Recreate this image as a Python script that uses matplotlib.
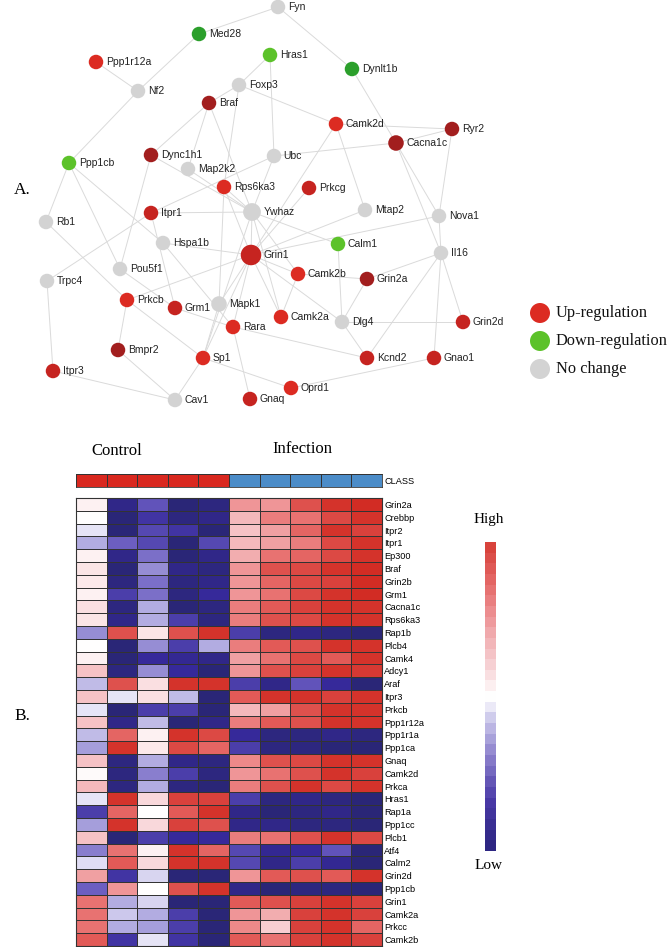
import matplotlib
matplotlib.use("Agg")
import matplotlib.pyplot as plt
import numpy as np
from matplotlib.colors import LinearSegmentedColormap, ListedColormap

# ---------------- Panel A: network data ----------------
node_names = ["Fyn", "Med28", "Hras1", "Ppp1r12a", "Nf2", "Foxp3", "Braf", "Dynlt1b",
              "Camk2d", "Ryr2", "Cacna1c", "Dync1h1", "Ppp1cb", "Map2k2", "Ubc",
              "Rps6ka3", "Prkcg", "Itpr1", "Ywhaz", "Rb1", "Hspa1b", "Grin1", "Mtap2",
              "Nova1", "Calm1", "Il16", "Pou5f1", "Trpc4", "Camk2b", "Grin2a", "Prkcb",
              "Grm1", "Mapk1", "Camk2a", "Rara", "Dlg4", "Grin2d", "Bmpr2", "Sp1",
              "Kcnd2", "Gnao1", "Itpr3", "Oprd1", "Cav1", "Gnaq"]
layout_x = [278, 199, 270, 96, 138, 239, 209, 352, 336, 452, 396, 151, 69, 188, 274,
            224, 309, 151, 252, 46, 163, 251, 365, 439, 338, 441, 120, 47, 298, 367,
            127, 175, 219, 281, 233, 342, 463, 118, 203, 367, 434, 53, 291, 175, 250]
layout_y = [7, 34, 55, 62, 91, 85, 103, 69, 124, 129, 143, 155, 163, 169, 156,
            187, 188, 213, 212, 222, 243, 255, 210, 216, 244, 253, 269, 281, 274, 279,
            300, 308, 304, 317, 327, 322, 322, 350, 358, 358, 358, 371, 388, 400, 399]
# status: 'up' / 'down' / 'none'; level: shade intensity (1 = bright, 2 = medium, 3 = dark)
node_status = ["none", "down", "down", "up", "none", "none", "up", "down",
               "up", "up", "up", "up", "down", "none", "none",
               "up", "up", "up", "none", "none", "none", "up", "none",
               "none", "down", "none", "none", "none", "up", "up", "up",
               "up", "none", "up", "up", "none", "up", "up", "up",
               "up", "up", "up", "up", "none", "up"]
node_level = [0, 3, 1, 1, 0, 0, 3, 3,
              1, 3, 3, 3, 1, 0, 0,
              1, 2, 2, 0, 0, 0, 2, 0,
              0, 1, 0, 0, 0, 1, 3, 1,
              2, 0, 1, 1, 0, 2, 3, 1,
              2, 2, 2, 1, 0, 2]
big_nodes = {"Grin1": 2.0, "Ywhaz": 1.5, "Mapk1": 1.15, "Cacna1c": 1.15}

edges = [("Fyn", "Med28"), ("Fyn", "Dynlt1b"), ("Med28", "Nf2"), ("Ppp1r12a", "Nf2"),
         ("Nf2", "Ppp1cb"), ("Hras1", "Foxp3"), ("Foxp3", "Braf"), ("Hras1", "Ubc"),
         ("Foxp3", "Camk2d"), ("Foxp3", "Rps6ka3"), ("Braf", "Dync1h1"), ("Braf", "Map2k2"),
         ("Braf", "Ywhaz"), ("Dync1h1", "Pou5f1"), ("Dync1h1", "Ywhaz"), ("Ubc", "Ywhaz"),
         ("Ubc", "Cacna1c"), ("Ubc", "Itpr1"), ("Camk2d", "Ryr2"), ("Camk2d", "Mtap2"),
         ("Camk2d", "Grin1"), ("Dynlt1b", "Cacna1c"), ("Cacna1c", "Ryr2"), ("Ryr2", "Nova1"),
         ("Cacna1c", "Nova1"), ("Cacna1c", "Il16"), ("Mtap2", "Grin1"), ("Nova1", "Grin1"),
         ("Nova1", "Il16"), ("Calm1", "Ywhaz"), ("Calm1", "Dlg4"), ("Il16", "Grin2a"),
         ("Il16", "Kcnd2"), ("Il16", "Gnao1"), ("Il16", "Grin2d"), ("Grin2a", "Dlg4"),
         ("Camk2b", "Grin2a"), ("Dlg4", "Grin2d"), ("Dlg4", "Kcnd2"), ("Rara", "Kcnd2"),
         ("Gnao1", "Oprd1"), ("Oprd1", "Sp1"), ("Rara", "Gnaq"), ("Sp1", "Cav1"),
         ("Sp1", "Grin1"), ("Sp1", "Mapk1"), ("Sp1", "Ywhaz"), ("Prkcb", "Sp1"),
         ("Prkcb", "Grin1"), ("Rb1", "Ppp1cb"), ("Rb1", "Prkcb"), ("Ppp1cb", "Pou5f1"),
         ("Ppp1cb", "Hspa1b"), ("Trpc4", "Itpr1"), ("Trpc4", "Itpr3"), ("Itpr3", "Cav1"),
         ("Bmpr2", "Prkcb"), ("Bmpr2", "Cav1"), ("Itpr1", "Ywhaz"), ("Itpr1", "Grm1"),
         ("Hspa1b", "Grin1"), ("Hspa1b", "Rara"), ("Grm1", "Rara"), ("Pou5f1", "Grm1"),
         ("Rps6ka3", "Mapk1"), ("Rps6ka3", "Grin1"), ("Rps6ka3", "Ywhaz"), ("Map2k2", "Ywhaz"),
         ("Ywhaz", "Grin1"), ("Ywhaz", "Camk2b"), ("Ywhaz", "Camk2a"), ("Prkcg", "Grin1"),
         ("Grin1", "Camk2b"), ("Grin1", "Camk2a"), ("Grin1", "Rara"), ("Grin1", "Mapk1"),
         ("Grin1", "Dlg4"), ("Camk2b", "Camk2a")]

legend_labels = ["Up-regulation", "Down-regulation", "No change"]

# ---------------- Panel B: heatmap data ----------------
genes = ["Grin2a", "Crebbp", "Itpr2", "Itpr1", "Ep300", "Braf", "Grin2b", "Grm1", "Cacna1c",
         "Rps6ka3", "Rap1b", "Plcb4", "Camk4", "Adcy1", "Araf", "Itpr3", "Prkcb", "Ppp1r12a",
         "Ppp1r1a", "Ppp1ca", "Gnaq", "Camk2d", "Prkca", "Hras1", "Rap1a", "Ppp1cc", "Plcb1",
         "Atf4", "Calm2", "Grin2d", "Ppp1cb", "Grin1", "Camk2a", "Prkcc", "Camk2b"]
sample_class = ["Control"] * 5 + ["Infection"] * 5
group_titles = ["Control", "Infection"]
expr = np.array([
    [0.05, -0.90, -0.60, -1.00, -0.95, 0.45, 0.45, 0.75, 0.95, 1.00],
    [0.00, -1.00, -0.75, -0.95, -0.90, 0.30, 0.55, 0.60, 0.80, 0.95],
    [-0.10, -1.00, -0.65, -0.75, -1.00, 0.25, 0.40, 0.65, 0.95, 0.85],
    [-0.30, -0.55, -0.65, -1.00, -0.65, 0.30, 0.40, 0.55, 0.80, 0.95],
    [0.05, -0.90, -0.50, -1.00, -0.90, 0.35, 0.60, 0.65, 0.80, 0.95],
    [0.10, -1.00, -0.40, -0.90, -0.95, 0.45, 0.75, 0.80, 0.95, 1.00],
    [0.08, -0.95, -0.50, -0.95, -0.90, 0.45, 0.65, 0.80, 0.85, 1.00],
    [0.05, -0.70, -0.50, -0.95, -0.80, 0.45, 0.60, 0.80, 0.95, 1.00],
    [0.12, -0.95, -0.30, -1.00, -0.95, 0.55, 0.70, 0.85, 0.95, 0.95],
    [0.10, -0.90, -0.30, -0.70, -0.95, 0.55, 0.75, 0.80, 0.95, 0.95],
    [-0.40, 0.75, 0.10, 0.75, 0.95, -0.70, -0.95, -0.90, -0.95, -1.00],
    [0.00, -1.00, -0.40, -0.70, -0.30, 0.55, 0.70, 0.75, 0.95, 0.95],
    [0.05, -1.00, -0.80, -0.85, -0.90, 0.40, 0.60, 0.80, 0.70, 0.95],
    [0.25, -0.95, -0.40, -0.80, -1.00, 0.45, 0.75, 0.85, 0.95, 0.90],
    [-0.25, 0.75, 0.12, 0.95, 0.95, -0.70, -0.90, -0.60, -0.80, -1.00],
    [0.25, -0.10, 0.12, -0.25, -1.00, 0.70, 0.95, 0.95, 0.85, 0.95],
    [-0.10, -1.00, -0.70, -0.70, -1.00, 0.30, 0.40, 0.75, 0.95, 0.95],
    [0.25, -0.90, -0.25, -1.00, -0.90, 0.55, 0.70, 0.75, 0.95, 0.95],
    [-0.25, 0.65, 0.05, 0.95, 0.80, -0.80, -0.95, -0.95, -0.90, -0.95],
    [-0.35, 0.95, 0.08, 0.80, 0.65, -0.70, -0.95, -0.95, -1.00, -1.00],
    [0.25, -0.95, -0.30, -0.90, -0.95, 0.50, 0.75, 0.80, 0.95, 0.95],
    [0.02, -0.95, -0.45, -0.70, -0.95, 0.45, 0.60, 0.75, 0.95, 0.85],
    [0.30, -0.95, -0.30, -0.95, -1.00, 0.55, 0.75, 0.95, 0.80, 0.95],
    [-0.10, 0.95, 0.15, 0.85, 0.85, -0.70, -0.95, -0.90, -0.95, -1.00],
    [-0.70, 0.65, 0.00, 0.70, 0.95, -0.90, -1.00, -0.95, -0.90, -1.00],
    [-0.35, 0.95, 0.15, 0.85, 0.75, -0.90, -0.90, -0.95, -0.95, -1.00],
    [0.25, -1.00, -0.70, -0.80, -0.80, 0.55, 0.60, 0.75, 0.95, 0.80],
    [-0.45, 0.60, 0.05, 0.95, 0.65, -0.65, -0.85, -0.80, -0.60, -1.00],
    [-0.12, 0.70, 0.15, 0.95, 0.95, -0.65, -0.90, -0.70, -0.85, -1.00],
    [0.40, -0.75, -0.15, -1.00, -1.00, 0.45, 0.70, 0.75, 0.70, 0.95],
    [-0.55, 0.45, 0.00, 0.75, 0.95, -0.90, -1.00, -0.95, -0.95, -1.00],
    [0.60, -0.30, -0.15, -1.00, -1.00, 0.70, 0.75, 0.85, 0.95, 0.85],
    [0.60, -0.20, -0.30, -0.70, -1.00, 0.45, 0.35, 0.85, 0.95, 0.85],
    [0.60, -0.30, -0.35, -0.70, -1.00, 0.50, 0.20, 0.85, 0.95, 0.65],
    [0.70, -0.75, -0.10, -0.75, -1.00, 0.70, 0.60, 0.85, 0.95, 0.85],
])
colorbar_labels = ["High", "Low"]

# ---------------- styling ----------------
W, H = 670, 947
fig = plt.figure(figsize=(W / 100, H / 100), dpi=100)
fig.patch.set_facecolor("white")
serif = ["Liberation Serif", "DejaVu Serif"]
sans = ["Liberation Sans", "DejaVu Sans"]

up_shades = {1: "#dc2b22", 2: "#c62420", 3: "#a21e1e"}
down_shades = {1: "#5cc22a", 3: "#2b9f2b"}
none_color = "#d3d3d3"


def node_color(st, lv):
    if st == "up":
        return up_shades[lv]
    if st == "down":
        return down_shades[lv]
    return none_color


# Network axes (layout coordinates in pixels)
axn = fig.add_axes([0, 1 - 420 / H, 1, 420 / H])
axn.set_xlim(0, W)
axn.set_ylim(420, 0)
axn.axis("off")

pos = {n: (x, y) for n, x, y in zip(node_names, layout_x, layout_y)}
for a, b in edges:
    axn.plot([pos[a][0], pos[b][0]], [pos[a][1], pos[b][1]], color="#dadada",
             lw=0.7, zorder=1, solid_capstyle="round")

base_d = 14.5  # px diameter
for n, x, y, st, lv in zip(node_names, layout_x, layout_y, node_status, node_level):
    scale = big_nodes.get(n, 1.0)
    d_px = base_d * np.sqrt(scale)
    d_pt = d_px * 72 / 100
    axn.scatter([x], [y], s=d_pt ** 2, color=node_color(st, lv), edgecolors="none", zorder=3)
    axn.text(x + d_px / 2 + 2.5, y, n, fontsize=7.5, family=sans, va="center", ha="left",
             color="#222222", zorder=4)

# legend
leg_colors = ["#dc2b22", "#5cc22a", "#d3d3d3"]
for i, (lab, c) in enumerate(zip(legend_labels, leg_colors)):
    yy = 313 + i * 28
    axn.scatter([540], [yy], s=(20 * 0.72) ** 2, color=c, edgecolors="none", zorder=3)
    axn.text(556, yy, lab, fontsize=11.8, family=serif, va="center", ha="left", color="#111111")

fig.text(14 / W, 1 - 190 / H, "A.", fontsize=12.5, family=serif, va="center", ha="left")
fig.text(14 / W, 1 - 716 / H, "B.", fontsize=12.5, family=serif, va="center", ha="left")

# heatmap colormap
cmap = LinearSegmentedColormap.from_list("bwr_custom", [
    (0.00, "#2a2677"), (0.10, "#36299b"), (0.22, "#6a5cc0"), (0.35, "#b3ade1"),
    (0.45, "#e5e3f6"), (0.50, "#ffffff"), (0.55, "#fbe4e6"), (0.65, "#f4b8bb"),
    (0.75, "#ed8a8b"), (0.85, "#e25a57"), (0.93, "#d8403a"), (1.00, "#d22c24")])

x0, x1 = 76, 382
ytop, ybot = 498, 946
axh = fig.add_axes([x0 / W, 1 - ybot / H, (x1 - x0) / W, (ybot - ytop) / H])
nrow, ncol = expr.shape
axh.pcolormesh(np.arange(ncol + 1), np.arange(nrow + 1), expr, cmap=cmap, vmin=-1, vmax=1,
               edgecolors="#333333", linewidth=0.6)
axh.set_xlim(0, ncol)
axh.set_ylim(nrow, 0)
axh.set_xticks([])
axh.yaxis.tick_right()
axh.set_yticks(np.arange(nrow) + 0.5)
axh.set_yticklabels(genes, fontsize=6.6, family=sans)
axh.tick_params(axis="y", length=0, pad=1.5)
for s in axh.spines.values():
    s.set_linewidth(0.8)
    s.set_color("#333333")

# class bar
axc = fig.add_axes([x0 / W, 1 - 487 / H, (x1 - x0) / W, 13 / H])
class_codes = np.array([[0 if c == "Control" else 1 for c in sample_class]])
axc.pcolormesh(np.arange(ncol + 1), [0, 1], class_codes,
               cmap=ListedColormap(["#d9281f", "#4b8cc8"]), vmin=0, vmax=1,
               edgecolors="#333333", linewidth=0.6)
axc.set_xlim(0, ncol)
axc.set_xticks([])
axc.yaxis.tick_right()
axc.set_yticks([0.5])
axc.set_yticklabels(["CLASS"], fontsize=6.6, family=sans)
axc.tick_params(axis="y", length=0, pad=1.5)
for s in axc.spines.values():
    s.set_linewidth(0.6)
    s.set_color("#333333")

# group titles
fig.text(117 / W, 1 - 451 / H, group_titles[0], fontsize=12, family=serif, ha="center", va="center")
fig.text(302 / W, 1 - 449 / H, group_titles[1], fontsize=12, family=serif, ha="center", va="center")

# colorbar (stepped)
nsteps = 29
steps = np.linspace(1, -1, nsteps).reshape(-1, 1)
cb_cmap = LinearSegmentedColormap.from_list("cb", [
    (0.00, "#2d2682"), (0.15, "#4a3aa8"), (0.30, "#8b80cc"), (0.42, "#cac6ea"),
    (0.47, "#f1f0fa"), (0.50, "#ffffff"), (0.53, "#fdf3f4"), (0.60, "#f7d3d6"),
    (0.75, "#ef9c9f"), (0.88, "#e56a69"), (1.00, "#d8433c")])
axcb = fig.add_axes([485 / W, 1 - 851 / H, 11 / W, (851 - 542) / H])
axcb.imshow(steps, cmap=cb_cmap, vmin=-1, vmax=1, aspect="auto", interpolation="nearest")
axcb.axis("off")
fig.text(489 / W, 1 - 519 / H, colorbar_labels[0], fontsize=11, family=serif, ha="center", va="center")
fig.text(489 / W, 1 - 865 / H, colorbar_labels[1], fontsize=11, family=serif, ha="center", va="center")

fig.savefig("out.png", dpi=100, facecolor="white")
